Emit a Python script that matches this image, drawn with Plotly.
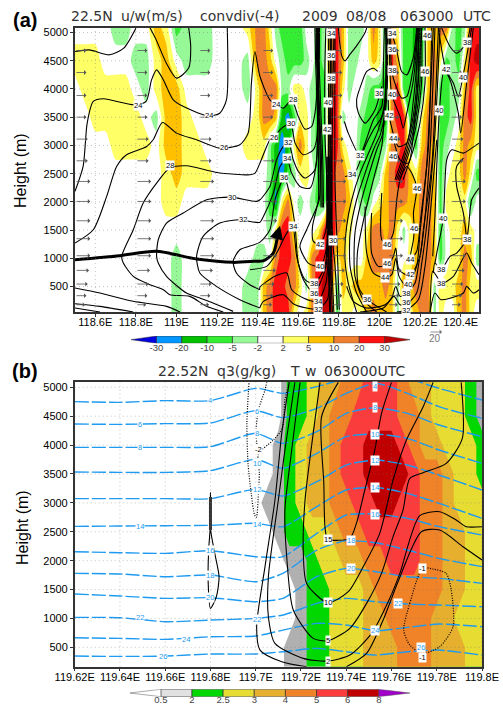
import plotly.graph_objects as go

W, H = 503, 704

# ---------- panel (a): convdiv class on a height / longitude grid ----------
# class: 0 <-30, 1 -30..-20, 2 -20..-10, 3 -10..-5, 4 -5..-2, 5 -2..2, 6 2..5, 7 5..10, 8 10..20, 9 20..30, 10 >30
conv_lon = [118.5, 118.55, 118.6, 118.65, 118.7, 118.75, 118.8, 118.85, 118.9, 118.95, 119.0, 119.05, 119.1, 119.15,
            119.2, 119.25, 119.3, 119.35,
            119.4, 119.43, 119.46, 119.49, 119.52, 119.55, 119.58, 119.61, 119.64, 119.67, 119.7, 119.73, 119.76,
            119.79, 119.82, 119.85, 119.88, 119.91, 119.94, 119.97, 120.0, 120.03, 120.06, 120.09, 120.12, 120.15,
            120.18, 120.21, 120.24, 120.27, 120.3, 120.33, 120.36, 120.39, 120.42, 120.45, 120.48, 120.5]
conv_hgt = [50, 500, 1000, 1500, 2000, 2500, 3000, 3500, 4000, 4500, 5080]
conv_5080 = [5,5,5,5,4,4,5,5,7,6,3,4,4,4,5,5,5,6, 8,8,6,4,3,3,3,3,5,5,3,4,8,9,7,4,4,4,5,8,6,3,8,6,3,3,2,2,7,7,8,8,4,3,4,9,9,9]
conv_4500 = [6,6,6,5,5,5,4,4,6,7,5,4,4,4,5,5,5,4, 8,8,7,5,4,3,3,3,4,5,3,4,8,9,7,4,4,5,5,7,6,3,9,7,3,3,2,3,7,8,6,3,4,3,6,9,10,10]
conv_4000 = [5,6,6,6,6,6,5,4,6,7,7,5,5,5,5,5,5,4, 6,8,8,8,4,4,6,6,5,4,3,3,8,9,6,4,5,5,4,3,3,2,8,9,3,3,3,3,7,8,3,3,4,4,7,9,6,6]
conv_3500 = [5,5,6,6,6,6,6,5,4,7,7,6,5,5,5,5,5,5, 6,8,8,7,2,1,3,6,6,4,3,3,9,9,4,5,5,4,3,3,2,2,8,9,9,3,3,6,8,8,3,3,4,5,8,9,6,6]
conv_3000 = [5,5,5,5,6,6,6,6,5,7,7,6,6,5,5,5,5,6, 6,6,4,2,1,2,6,8,6,4,3,3,9,9,6,5,5,3,3,3,3,4,8,8,9,5,3,7,8,7,3,4,5,6,8,7,6,6]
conv_2500 = [5,5,5,5,5,5,5,5,5,6,7,6,6,6,5,5,5,5, 5,5,4,2,1,3,4,6,6,5,3,3,10,8,8,6,5,3,3,3,4,7,8,9,9,7,6,8,8,7,3,5,6,6,8,6,3,3]
conv_2000 = [5,5,5,5,5,5,5,5,5,6,6,5,5,5,5,5,5,5, 5,5,3,1,6,8,5,4,5,4,3,3,10,8,8,7,5,4,3,5,6,7,8,8,8,7,7,8,8,7,3,6,6,6,6,3,5,5]
conv_1500 = [5,5,5,5,5,5,5,5,5,5,5,5,5,5,5,5,5,5, 5,5,4,6,9,9,6,5,5,5,6,9,10,8,7,6,5,5,6,8,8,7,8,6,4,6,7,8,8,7,3,5,6,6,7,6,5,5]
conv_1000 = [5,5,5,5,5,5,5,5,5,5,4,5,5,5,5,5,5,5, 4,4,5,8,9,9,8,5,5,8,9,9,10,6,7,5,5,5,7,8,8,8,8,5,5,6,7,8,8,7,3,5,6,6,8,7,4,4]
conv_500  = [5,5,5,5,5,5,5,5,5,5,4,5,5,5,5,5,5,4, 4,7,8,9,9,8,8,6,4,8,9,10,10,3,7,6,7,7,7,7,7,8,7,4,8,7,8,8,8,4,6,6,6,7,8,6,6,6]
conv_50   = [5,5,5,5,5,5,5,5,5,5,4,5,5,5,5,5,5,4, 4,7,8,9,9,9,6,5,6,8,9,10,10,3,6,6,5,6,7,8,7,7,7,4,7,6,7,8,8,4,6,5,5,7,8,6,5,5]
conv_colors = ["#0000E0", "#0096FF", "#00C000", "#33EE33", "#96F896", "#FFFFFF",
               "#FFFF66", "#FFC000", "#EE8030", "#FF1010", "#C00000"]
conv_bar_colors = ["#0096FF", "#00C000", "#33EE33", "#96F896", "#FFFFFF", "#FFFF66", "#FFC000", "#EE8030", "#FF1010"]
conv_ticks = ["-30", "-20", "-10", "-5", "-2", "2", "5", "10", "20", "30"]

# ---------- panel (a): temperature isolines (longitude, height) ----------
a_thick = ([118.5,118.72,118.9,119.1,119.28,119.38,119.43,119.477,119.5], [976,1047,1124,988,929,947,960,1095,1450])
a01 = ([118.5,118.57,118.67,118.74,118.8], [4664,4693,4605,4723,5077])
a02 = ([118.5,118.54,118.56,118.59,118.64,118.79,118.85,118.877,118.902,118.935,118.984,119.05,119.156,119.213,119.246,119.25],
       [2186,2628,3395,3779,3826,3720,3779,4162,4339,4162,3808,3661,3525,3570,3808,5080])
a03 = ([118.87,118.9,118.95,119.0,119.06,119.07,119.06], [5080,4870,4457,4192,4370,4750,5080])
a04 = ([118.5,118.59,118.656,118.705,118.754,118.853,118.885,118.931,119.0,119.099,119.213,119.312,119.353,119.369,119.386,119.411,119.46,119.49,119.526,119.567,119.6,119.633,119.666,119.682,119.699,119.704],
       [1271,1507,2097,2628,2835,2982,3100,3407,3218,3100,2953,3012,3218,4103,4664,4221,3808,3731,3660,3808,3513,3289,3336,3572,4398,5082])
a05 = ([119.23,119.148,119.066,118.967,118.935,118.869,118.787,118.738,118.73,118.787,118.836,118.902,118.967,119.05,119.197,119.362,119.387,119.411,119.46,119.48,119.518,119.562,119.584,119.625,119.674,119.69,119.699,119.704],
       [50,150,327,357,445,534,681,917,1035,1507,1979,2333,2599,2640,2522,2480,2510,2687,3100,3147,3306,3383,3041,2835,2923,3100,3808,5082])
a06 = ([119.279,119.18,119.115,119.049,118.951,118.91,118.902,118.91,118.951,119.033,119.148,119.263,119.394,119.411,119.46,119.493,119.526,119.551,119.575,119.6,119.633,119.682,119.695,119.7],
       [61,209,298,386,681,917,1035,1330,1625,1802,2038,2085,2009,2038,2274,2746,2982,3059,2746,2540,2422,2569,3218,5082])
a07 = ([119.41,119.312,119.197,119.115,119.099,119.131,119.213,119.312,119.41,119.428,119.477,119.51,119.543,119.567,119.608,119.658,119.69,119.695],
       [121,268,504,740,1035,1389,1625,1684,1637,1743,2156,2628,2764,2510,2274,2245,2746,5082])
a08 = ([119.41,119.361,119.295,119.279,119.312,119.41,119.46,119.485,119.531,119.556,119.584,119.6,119.633,119.677,119.731,119.743,119.731,119.731,119.736],
       [445,534,740,947,1153,1283,1507,2038,2439,2156,1566,917,622,551,858,2038,3218,4398,5082])
a09 = ([119.41,119.411,119.485,119.543,119.567,119.625,119.695,119.736,119.756,119.756], [445,492,681,740,445,298,239,563,2038,5082])
a10 = ([119.41,119.428,119.526,119.575,119.641,119.695,119.743,119.764,119.764], [121,238,357,197,120,103,268,1743,5082])
a11 = ([118.5,118.623,118.787,118.951,119.017], [475,386,239,150,50])
a12 = ([118.5,118.623,118.787], [197,150,50])
a13 = ([118.5,118.623], [120,50])
a14 = ([119.362,119.444,119.493,119.543,119.572,119.592,119.625,119.677,119.736,119.748,119.748], [799,858,1094,1448,1566,1035,622,386,858,2628,5082])
a15 = ([119.682,119.685,119.69,119.695,119.699,119.699,119.699,119.67,119.674,119.707,119.736,119.748], [5082,4500,4000,3500,3000,2500,2038,1566,1300,1241,1507,3218])
a16 = ([119.69,119.693,119.698,119.703,119.707,119.707,119.703,119.641,119.608,119.649,119.707,119.74,119.753,119.761], [5082,4500,4000,3500,3000,2500,2038,1507,1212,917,858,1212,3218,5082])
a17 = ([119.797,119.814,119.83,119.855,119.887,119.929,119.937], [5082,4587,4498,4616,4764,5000,5082])
a18 = ([119.827,119.846,119.904,119.929,119.97,120.011,120.019,120.024], [3424,3218,2817,3041,3454,3690,4398,5082])
a19 = ([120.011,119.978,119.929,119.896,119.887,119.912,119.937,119.97,119.991], [4044,3631,3395,3572,3808,4103,4310,4368,4310])
a20 = ([119.83,119.863,119.887,119.929,119.97,120.019,120.03], [2451,2481,2569,2982,3277,3572,5082])
a21 = ([119.887,119.846,119.83,119.838,119.863,119.904,119.953,119.994,120.027,120.035], [50,563,976,1566,2038,2510,2923,3277,3808,5082])
a22 = ([119.937,119.887,119.855,119.855,119.887,119.929,119.97,120.006,120.035,120.04], [50,386,858,1448,2038,2510,2923,3218,3808,5082])
a23 = ([119.986,119.92,119.879,119.879,119.912,119.945,119.986,120.016,120.043], [50,268,681,1448,2038,2451,2923,3218,5082])
a24 = ([120.035,119.94,119.896,119.891,119.929,119.978,120.011,120.027], [50,268,504,1094,1802,2510,2982,3808])
a25 = ([119.929,119.937,119.97,120.027,120.06,120.08,120.096,120.134,120.183,120.199,120.232,120.265], [1920,1094,740,652,711,1006,681,504,858,1448,2628,5082])
a26 = ([119.961,119.961,119.994,120.039,120.068,120.08,120.096,120.15,120.199,120.216,120.257,120.29], [1802,1094,858,887,1035,1182,799,692,1035,1507,2628,5082])
a27 = ([120.011,120.011,120.039,120.068,120.085,120.101,120.134,120.158,120.183,120.167,120.171,120.167,120.15,120.183,120.202,120.24,120.257],
       [2156,1330,1254,1448,2038,2392,2628,2510,2245,1802,1537,1330,976,1123,1684,2923,5082])
a28 = ([119.838,119.871,119.937,120.027,120.06,120.08,120.101,120.131,120.175,120.191,120.216,120.249,120.273], [504,239,120,180,298,504,327,374,563,858,1448,2923,5082])
a29 = ([119.904,120.019,120.071,120.101,120.131,120.183,120.208,120.232,120.273,120.298], [50,120,327,180,180,386,917,1566,3218,5082])
a30 = ([120.085,120.134,120.191,120.224,120.249,120.282], [50,91,268,858,1743,3100])
a31 = ([120.043,120.06,120.084,120.109,120.134,120.167,120.183], [5082,4988,4693,4310,4250,4575,5082])
a32 = ([120.048,120.06,120.101,120.117,120.134,120.167,120.191], [5082,3908,3513,3306,3572,4162,5082])
a33 = ([120.043,120.047,120.093,120.134,120.167,120.199], [3808,3531,2982,3041,3808,5082])
a34 = ([120.068,120.101,120.142,120.175,120.208], [3130,2746,2687,3513,5082])
a35 = ([120.055,120.06,120.084,120.109,120.134,120.167,120.187], [5082,4321,4015,3838,3867,4398,5082])
a36 = ([120.191,120.191,120.167,120.134,120.084], [5082,4103,3395,2923,2392])
a37 = ([120.207,120.207,120.183,120.15,120.1], [5082,4103,3395,2923,2392])
a38 = ([120.224,120.224,120.199,120.166,120.116], [5082,4103,3395,2923,2392])
a39 = ([120.306,120.347,120.38,120.429,120.446], [5082,4752,4634,4823,5082])
a40 = ([120.29,120.326,120.364,120.388,120.41,120.454], [5082,4351,4103,3867,4203,5082])
a41 = ([120.262,120.273,120.282,120.295,120.318,120.347,120.388,120.4,120.429,120.462], [1035,1743,2628,3613,4339,4162,3572,3218,4103,5082])
a42 = ([120.249,120.262,120.282,120.303,120.364,120.429,120.454,120.49], [50,770,681,551,681,1094,917,710])
a43 = ([120.265,120.273,120.303,120.347,120.38,120.429,120.454,120.49], [740,917,799,1035,1094,1342,2038,2245])
a44 = ([120.273,120.282,120.314,120.331,120.356,120.413,120.454,120.49], [917,1094,1702,2746,2923,2864,2953,3041])
a45 = ([120.429,120.413,120.38,120.38,120.413], [1342,1802,2274,2628,2776])
a46 = ([120.249,120.273,120.303,120.413,120.429,120.462,120.49], [50,386,268,386,504,386,445])
a47 = ([119.792,119.781,119.769,119.764,119.769,119.776], [91,858,1318,2628,3808,5082])
a48 = ([119.802,119.792,119.781,119.781], [91,1153,2333,5082])
a49 = ([119.745,119.745,119.75,119.755,119.76], [2800,2000,1200,600,50])
a50 = ([119.75,119.752,119.757,119.762,119.768], [2800,2000,1200,600,50])
a51 = ([119.74,119.74,119.745,119.75,119.755], [2800,2000,1200,600,50])
a52 = ([119.755,119.757,119.762,119.768,119.775], [2800,2000,1200,600,50])
a53 = ([119.688,119.69,119.695,119.70,119.706,119.71,119.712], [5082,4500,4000,3500,3000,2500,1900])
a54 = ([119.694,119.696,119.701,119.706,119.712,119.716,119.718], [5082,4500,4000,3500,3000,2500,1900])
a55 = ([119.70,119.702,119.707,119.712,119.718,119.722,119.724], [5082,4500,4000,3500,3000,2500,1900])
a56 = ([120.183,120.183,120.16,120.126,120.076], [5082,4103,3395,2923,2392])
a57 = ([120.199,120.199,120.175,120.142,120.092], [5082,4103,3395,2923,2392])
iso_a = [a01,a02,a03,a04,a05,a06,a07,a08,a09,a10,a11,a12,a13,a14,a15,a16,a17,a18,a19,a20,a21,a22,a23,a24,
         a25,a26,a27,a28,a29,a30,a31,a32,a33,a34,a35,a36,a37,a38,a39,a40,a41,a42,a43,a44,a45,a46,a47,a48,
         a49,a50,a51,a52,a53,a54,a55,a56,a57]
# labels: (text, longitude, height)
lab_a = [("24",118.808,3708),("24",119.159,3525),("26",119.233,2964),("28",118.97,2640),("30",119.274,2085),("32",119.328,1684),
         ("24",119.49,3731),("28",119.572,3808),("30",119.562,3383),("26",119.48,3147),("32",119.551,3059),("34",119.543,2764),
         ("36",119.531,2439),("34",119.572,1566),("34",119.759,4988),("36",119.759,4593),("38",119.759,4180),("40",119.748,3761),
         ("42",119.74,3277),("42",119.707,1241),("40",119.707,858),("38",119.677,551),("36",119.677,386),("34",119.695,239),
         ("32",119.695,103),("30",119.769,1318),("32",119.904,2817),("34",119.863,2481),("30",119.997,3926),("34",120.06,4988),
         ("36",120.06,4693),("38",120.06,4321),("40",120.06,3908),("42",120.047,3531),("44",120.068,3130),("46",120.068,2805),
         ("46",120.236,4947),("46",120.224,4310),("46",120.183,2245),("46",120.171,1537),("44",120.15,976),("42",120.15,720),
         ("40",120.14,545),("38",120.129,378),("36",120.131,215),("32",120.131,85),("46",120.039,1254),("46",120.039,917),
         ("44",120.027,669),("36",119.94,280),("42",120.326,4351),("38",120.429,4823),("40",120.41,4203),("40",120.295,3613),
         ("40",120.314,1702),("38",120.429,1342),("38",120.303,799),("38",120.303,551)]

# wind arrows
wind_lon = [118.5, 118.8, 119.11, 119.42, 119.76, 120.04, 120.35]
wind_hgt = [4681, 4292, 3885, 3501, 3112, 2728, 2362, 2008, 1666, 1348, 1047, 787, 545, 339, 179]
wind_u = [18, 18, 18, 18, 20, 20, 24, 24, 24, 24, 24, 22, 20, 18, 16]

# ---------- panel (b) ----------
q3_lon = [119.62, 119.695, 119.70, 119.705, 119.71, 119.715, 119.72, 119.725, 119.73, 119.735, 119.74, 119.745,
          119.75, 119.755, 119.76, 119.765, 119.77, 119.775, 119.78, 119.785, 119.79, 119.795, 119.80]
q3_hgt = [165, 500, 1000, 1500, 2000, 2500, 3000, 3500, 4000, 4500, 5092]
q3_5092 = [0,0,0,0,0,2,2,3,4,4,5,5,6,6,6,5,4,4,3,3,3,2,1]
q3_4500 = [0,0,0,0,0,2,2,3,4,5,5,6,6,6,6,5,5,4,3,3,3,2,1]
q3_4000 = [0,0,0,0,1,2,3,4,4,5,6,6,7,7,7,6,5,4,4,3,3,3,2]
q3_3500 = [0,0,0,0,1,2,3,4,4,5,6,6,7,7,7,7,6,5,5,4,3,3,2]
q3_3000 = [0,0,0,1,1,2,3,4,4,5,5,6,6,7,7,6,6,5,5,4,3,3,3]
q3_2500 = [0,0,0,0,1,2,2,3,3,4,5,5,6,6,6,6,6,5,5,4,4,3,3]
q3_2000 = [0,0,0,0,0,1,1,2,3,3,4,4,5,5,6,6,6,5,5,4,4,3,3]
q3_1500 = [0,0,0,0,0,0,1,2,2,3,3,3,4,5,5,5,5,5,5,4,4,3,3]
q3_1000 = [0,0,0,0,0,0,1,2,2,3,3,3,4,4,5,5,5,5,4,4,3,3,3]
q3_500  = [0,0,0,0,0,1,1,2,2,3,3,3,4,4,4,5,5,5,4,4,4,3,3]
q3_165  = [0,0,0,0,0,1,1,2,2,3,3,3,4,4,4,5,5,5,4,4,4,3,3]
q3_colors = ["#FFFFFF", "#B0B0B0", "#00D800", "#E6DC32", "#E6AF2D", "#F08228", "#FA3C3C", "#C00000", "#A000C8"]
q3_bar_colors = ["#E1E1E1", "#00D800", "#E6DC32", "#E6AF2D", "#F08228", "#FA3C3C", "#C00000"]
q3_ticks = ["0.5", "2", "2.5", "3", "4", "5", "6", "8"]

# temperature (blue dashed): height at the shared longitudes
T_lon = [119.62, 119.64, 119.66, 119.68, 119.70, 119.712, 119.727, 119.74, 119.753, 119.767, 119.781, 119.80]
T04 = [4752, 4740, 4769, 4769, 4982, 4896, 5011, 5155, 5242, 5155, 4982, 4780]
T06 = [4365, 4359, 4371, 4382, 4596, 4475, 4636, 4896, 5069, 4896, 4665, 4463]
T08 = [3961, 3961, 3961, 3973, 4204, 4030, 4232, 4550, 4648, 4550, 4348, 4146]
T10 = [3534, 3528, 3528, 3557, 3753, 3598, 3857, 4146, 4192, 4117, 3915, 3684]
T12 = [3073, 3073, 3073, 3073, 3234, 3119, 3367, 3655, 3742, 3655, 3482, 3223]
T14 = [2594, 2600, 2605, 2611, 2646, 2588, 2934, 3223, 3269, 3165, 2992, 2732]
T16 = [2155, 2138, 2126, 2172, 2069, 2069, 2472, 2790, 2807, 2732, 2588, 2444]
T18 = [1780, 1769, 1722, 1751, 1636, 1780, 2184, 2346, 2311, 2184, 2040, 1896]
T20 = [1422, 1388, 1347, 1359, 1290, 1347, 1722, 1867, 1809, 1722, 1694, 1607]
T22 = [1019, 1013, 943, 972, 1001, 1059, 1261, 1347, 1290, 1249, 1232, 1203]
T24 = [666, 655, 638, 684, 695, 799, 915, 886, 788, 845, 903, 857]
T26 = [349, 343, 349, 384, 384, 424, 482, 424, 366, 424, 453, 366]
T_lines = [T04, T06, T08, T10, T12, T14, T16, T18, T20, T22, T24, T26]
lab_T = [("4",119.68,4769),("6",119.649,4359),("8",119.649,3961),("14",119.649,2600),("16",119.68,2172),("18",119.68,1751),
         ("20",119.68,1359),("22",119.649,1013),("24",119.669,638),("26",119.659,349),("6",119.7007,4590),("8",119.7007,4204),
         ("10",119.7007,3690),("12",119.7007,3234),("14",119.7007,2628),("22",119.7007,989),("4",119.7526,5020),("8",119.7526,4648),
         ("10",119.7526,4192),("12",119.7526,3742),("14",119.7526,3269),("16",119.7526,2807),("18",119.7423,2346),("20",119.7423,1867),
         ("22",119.763,1261),("24",119.7526,788),("26",119.7732,500)]

# vertical velocity (black)
b_s1 = ([119.68,119.68,119.6792,119.679,119.68,119.6826,119.6838,119.6819,119.6801,119.68], [3176,2646,2184,1607,1174,1376,1722,2126,2530,3176])
b_s1_core = ([119.68,119.68], [3100,2530])
b_o1 = ([119.7148,119.7115,119.7085,119.7041,119.7004,119.7019,119.7115,119.7225], [5086,4204,3049,1896,857,453,251,165])
b_o1b = ([119.7401,119.749,119.7563,119.7629,119.7732,119.7813,119.7916,119.80], [165,395,972,1636,2501,2530,2242,2011])
b_o2 = ([119.7173,119.7129,119.71,119.7056,119.7056,119.7085,119.721,119.7318,119.7416,119.7512,119.7592,119.7637,119.7725,119.7813,119.7886,119.793,119.80],
        [5086,3915,3049,1722,1030,568,309,263,366,741,1347,1780,2778,2848,2703,2588,2588])
b_l5 = ([119.7196,119.7159,119.7129,119.7137,119.7166,119.7254,119.7318,119.7416,119.749,119.7556,119.7607,119.7651,119.7681,119.774,119.7842,119.7913,119.7908],
        [5086,3915,2876,2069,1145,655,614,828,1261,1780,2415,2876,3425,3523,3684,4117,5086])
b_l10 = ([119.7284,119.7254,119.7218,119.721,119.7225,119.7318,119.7409,119.7475,119.7548,119.7607,119.7666,119.774,119.7784],
         [5086,4204,3049,2184,1607,1272,1463,1896,2473,3396,4088,4665,5086])
b_l15 = ([119.7365,119.7291,119.7301,119.7306,119.7318,119.7416,119.7445,119.7482,119.7526,119.7556,119.76],
         [5086,4492,3338,2588,2375,2386,2646,3223,3915,4550,5086])
b_solid = [b_s1, b_o1, b_o1b, b_o2, b_l5, b_l10, b_l15]
b_d1 = ([119.697,119.6961,119.6966,119.698,119.6995,119.7003,119.7012,119.7016,119.7012,119.7078,119.7118,119.7129,119.7148],
        [5069,4377,3684,3165,2790,2750,3165,3511,3846,4088,4290,4781,5086])
b_d2 = ([119.7012,119.7001,119.7012,119.7041,119.7049], [3846,4204,4607,4954,5086])
b_neg = ([119.7737,119.7681,119.7654,119.7681,119.7737,119.7813,119.7872,119.7864,119.7842,119.7784,119.7737],
         [1867,1261,799,539,395,511,857,1492,1780,1855,1867])
b_dotted = [b_d1, b_d2, b_neg]
lab_w = [("15",119.7318,2375),("10",119.7318,1272),("5",119.7318,618),("2",119.7318,263),("-1",119.7737,1867),("-1",119.7737,330),("-2",119.7012,3930)]

xticks_a = [118.6, 118.8, 119.0, 119.2, 119.4, 119.6, 119.8, 120.0, 120.2, 120.4]
xlabels_a = ["118.6E", "118.8E", "119E", "119.2E", "119.4E", "119.6E", "119.8E", "120E", "120.2E", "120.4E"]
xticks_b = [119.62, 119.64, 119.66, 119.68, 119.70, 119.72, 119.74, 119.76, 119.78, 119.80]
xlabels_b = ["119.62E", "119.64E", "119.66E", "119.68E", "119.7E", "119.72E", "119.74E", "119.76E", "119.78E", "119.8E"]
yticks = [500, 1000, 1500, 2000, 2500, 3000, 3500, 4000, 4500, 5000]


def discrete(cols):
    n = len(cols)
    out = []
    for i, c in enumerate(cols):
        out += [[i / n, c], [(i + 1) / n, c]]
    return out


fig = go.Figure()
ANN = []

conv_rows = [conv_50, conv_500, conv_1000, conv_1500, conv_2000, conv_2500, conv_3000, conv_3500, conv_4000, conv_4500, conv_5080]
fig.add_trace(go.Contour(x=conv_lon, y=conv_hgt, z=conv_rows, xaxis="x", yaxis="y", showscale=False,
                         autocontour=False, zauto=False, zmin=-0.5, zmax=10.5,
                         contours=dict(coloring="fill", showlines=False, start=0.5, end=9.5, size=1),
                         line=dict(width=0, smoothing=0.7), colorscale=discrete(conv_colors), hoverinfo="skip"))
for xs, ys in iso_a:
    fig.add_trace(go.Scatter(x=xs, y=ys, mode="lines", xaxis="x", yaxis="y", hoverinfo="skip",
                             line=dict(color="#000000", width=1.1, shape="spline", smoothing=0.7)))
fig.add_trace(go.Scatter(x=a_thick[0], y=a_thick[1], mode="lines", xaxis="x", yaxis="y", hoverinfo="skip",
                         line=dict(color="#000000", width=3, shape="spline", smoothing=0.7)))

UNIT = 0.0625 / 20  # degrees of longitude per m/s
for lon in wind_lon:
    for h, u in zip(wind_hgt, wind_u):
        ANN.append(dict(x=lon + u * UNIT, y=h, ax=lon, ay=h, xref="x", yref="y", axref="x", ayref="y", text="",
                        showarrow=True, arrowhead=1, arrowsize=1.0, arrowwidth=0.8, arrowcolor="#555555"))
ANN.append(dict(x=119.51, y=1578, ax=119.5, ay=1450, xref="x", yref="y", axref="x", ayref="y", text="",
                showarrow=True, arrowhead=2, arrowsize=0.9, arrowwidth=3, arrowcolor="#000000"))
for t, x, y in lab_a:
    ANN.append(dict(x=x, y=y, xref="x", yref="y", text=t, showarrow=False, bgcolor="#FFFFFF", borderpad=0,
                    font=dict(family="Liberation Sans", size=7.5, color="#000000")))

q3_rows = [q3_165, q3_500, q3_1000, q3_1500, q3_2000, q3_2500, q3_3000, q3_3500, q3_4000, q3_4500, q3_5092]
fig.add_trace(go.Contour(x=q3_lon, y=q3_hgt, z=q3_rows, xaxis="x2", yaxis="y2", showscale=False,
                         autocontour=False, zauto=False, zmin=-0.5, zmax=8.5,
                         contours=dict(coloring="fill", showlines=False, start=0.5, end=7.5, size=1),
                         line=dict(width=0, smoothing=0), colorscale=discrete(q3_colors), hoverinfo="skip"))
for ys in T_lines:
    fig.add_trace(go.Scatter(x=T_lon, y=ys, mode="lines", xaxis="x2", yaxis="y2", hoverinfo="skip",
                             line=dict(color="#1E9BF0", width=1.4, dash="14px,3px", shape="spline", smoothing=0.6)))
for xs, ys in b_solid:
    fig.add_trace(go.Scatter(x=xs, y=ys, mode="lines", xaxis="x2", yaxis="y2", hoverinfo="skip",
                             line=dict(color="#000000", width=1.1, shape="spline", smoothing=0.7)))
fig.add_trace(go.Scatter(x=b_s1_core[0], y=b_s1_core[1], mode="lines", xaxis="x2", yaxis="y2", hoverinfo="skip",
                         line=dict(color="#333333", width=3)))
for xs, ys in b_dotted:
    fig.add_trace(go.Scatter(x=xs, y=ys, mode="lines", xaxis="x2", yaxis="y2", hoverinfo="skip",
                             line=dict(color="#000000", width=1.2, dash="1px,1.5px", shape="spline", smoothing=0.7)))
for t, x, y in lab_T:
    ANN.append(dict(x=x, y=y, xref="x2", yref="y2", text=t, showarrow=False, bgcolor="#FFFFFF", borderpad=0,
                    font=dict(family="Liberation Sans", size=7.5, color="#1E9BF0")))
for t, x, y in lab_w:
    ANN.append(dict(x=x, y=y, xref="x2", yref="y2", text=t, showarrow=False, bgcolor="#FFFFFF", borderpad=0,
                    font=dict(family="Liberation Sans", size=7.5, color="#000000")))

# colour bars
fig.add_trace(go.Bar(x=[i + 0.5 for i in range(len(conv_bar_colors))], y=[1] * len(conv_bar_colors), width=1,
                     xaxis="x3", yaxis="y3", hoverinfo="skip",
                     marker=dict(color=conv_bar_colors, line=dict(color="#333333", width=0.7))))
fig.add_trace(go.Scatter(x=[0, -1, 0, 0], y=[0, 0.5, 1, 0], mode="lines", fill="toself", fillcolor="#0000E0", xaxis="x3", yaxis="y3",
                         line=dict(color="#333333", width=0.5), hoverinfo="skip"))
fig.add_trace(go.Scatter(x=[9, 10, 9, 9], y=[0, 0.5, 1, 0], mode="lines", fill="toself", fillcolor="#C00000", xaxis="x3", yaxis="y3",
                         line=dict(color="#333333", width=0.5), hoverinfo="skip"))
fig.add_trace(go.Bar(x=[i + 0.5 for i in range(len(q3_bar_colors))], y=[1] * len(q3_bar_colors), width=1,
                     xaxis="x4", yaxis="y4", hoverinfo="skip",
                     marker=dict(color=q3_bar_colors, line=dict(color="#333333", width=0.7))))
fig.add_trace(go.Scatter(x=[0, -1, 0, 0], y=[0, 0.5, 1, 0], mode="lines", fill="toself", fillcolor="#FFFFFF", xaxis="x4", yaxis="y4",
                         line=dict(color="#555555", width=0.5), hoverinfo="skip"))
fig.add_trace(go.Scatter(x=[7, 8, 7, 7], y=[0, 0.5, 1, 0], mode="lines", fill="toself", fillcolor="#A000C8", xaxis="x4", yaxis="y4",
                         line=dict(color="#555555", width=0.5), hoverinfo="skip"))


def px(x):
    return x / W


def py(y):
    return 1 - y / H


def text(x, y, s, size, fam="Liberation Sans", color="#000000", bold=False, anchor="left", rot=0):
    ANN.append(dict(x=px(x), y=py(y), xref="paper", yref="paper", text=f"<b>{s}</b>" if bold else s, showarrow=False,
                    xanchor=anchor, yanchor="middle", textangle=rot, xshift=0, font=dict(family=fam, size=size, color=color)))


text(11, 20, "(a)", 20, bold=True)
text(10, 371, "(b)", 20, bold=True)
title_a = [("22.5N", 69), ("u/w(m/s)", 119), ("convdiv(-4)", 198), ("2009", 300), ("08/08", 344), ("063000", 398), ("UTC", 461)]
title_b = [("22.52N", 156), ("q3(g/kg)", 215), ("T", 288), ("w", 303), ("063000UTC", 322)]
for word, x0 in title_a:
    text(x0, 16, word, 14, fam="DejaVu Sans", color="#333333")
for word, x0 in title_b:
    text(x0, 371, word, 14, fam="DejaVu Sans", color="#333333")
text(20, 171, "Height (m)", 16, anchor="center", rot=-90)
text(22, 528, "Height (m)", 16, anchor="center", rot=-90)
text(435, 339, "20", 10, color="#777777", anchor="center")
ANN.append(dict(x=px(442), y=py(332), ax=-13, ay=0, xref="paper", yref="paper", axref="pixel", ayref="pixel", text="",
                showarrow=True, arrowhead=1, arrowsize=1.0, arrowwidth=0.8, arrowcolor="#777777"))

# dotted grid drawn above the shading, as in the reference
SHAPES = []
GRID = dict(color="rgba(120,120,120,0.55)", width=0.8, dash="1px,3px")
for v in xticks_a:
    SHAPES.append(dict(type="line", xref="x", yref="paper", x0=v, x1=v, y0=py(312), y1=py(28), line=GRID))
for v in xticks_b:
    SHAPES.append(dict(type="line", xref="x2", yref="paper", x0=v, x1=v, y0=py(666.7), y1=py(382), line=GRID))
for v in yticks:
    SHAPES.append(dict(type="line", xref="paper", yref="y", x0=px(75), x1=px(479), y0=v, y1=v, line=GRID))
    SHAPES.append(dict(type="line", xref="paper", yref="y2", x0=px(74.7), x1=px(482), y0=v, y1=v, line=GRID))

tick_font = dict(family="Liberation Sans", size=11, color="#000000")
axis_common = dict(showline=True, mirror=True, linecolor="#333333", linewidth=1.5, ticks="outside", ticklen=3, tickcolor="#333333",
                   tickwidth=1, showgrid=False, zeroline=False, tickfont=tick_font, automargin=False)
bar_axis = dict(tickangle=0, showgrid=False, zeroline=False, showline=False, ticks="", automargin=False,
                tickfont=dict(family="Liberation Sans", size=9.5, color="#444444"))
fig.update_layout(
    template=None,
    width=W, height=H, autosize=False, margin=dict(l=0, r=0, t=0, b=0, autoexpand=False), paper_bgcolor="white", plot_bgcolor="white",
    showlegend=False, annotations=ANN, shapes=SHAPES, barmode="overlay",
    xaxis=dict(domain=[px(75), px(479)], range=[118.5, 120.49], anchor="y", tickvals=xticks_a, ticktext=xlabels_a, tickangle=0, ticklabelstandoff=-4, **axis_common),
    yaxis=dict(domain=[py(312), py(28)], range=[50, 5080], anchor="x", tickvals=yticks, **axis_common),
    xaxis2=dict(domain=[px(74.7), px(482)], range=[119.62, 119.80], anchor="y2", tickvals=xticks_b, ticktext=xlabels_b, tickangle=0, ticklabelstandoff=-4, **axis_common),
    yaxis2=dict(domain=[py(666.7), py(382)], range=[165, 5092], anchor="x2", tickvals=yticks, **axis_common),
    xaxis3=dict(domain=[px(131), px(410)], range=[-1, 10], anchor="y3", tickvals=list(range(len(conv_ticks))), ticktext=conv_ticks, ticklabelstandoff=-3, **bar_axis),
    yaxis3=dict(domain=[py(343.3), py(336)], range=[0, 1], anchor="x3", visible=False),
    xaxis4=dict(domain=[px(129.7), px(410)], range=[-1, 8], anchor="y4", tickvals=list(range(len(q3_ticks))), ticktext=q3_ticks, ticklabelstandoff=-4, **bar_axis),
    yaxis4=dict(domain=[py(696.7), py(689.3)], range=[0, 1], anchor="x4", visible=False),
)
fig.write_html("out.html", config=dict(displayModeBar=False),
               post_script="document.body.style.margin='0';document.body.style.overflow='hidden';")
